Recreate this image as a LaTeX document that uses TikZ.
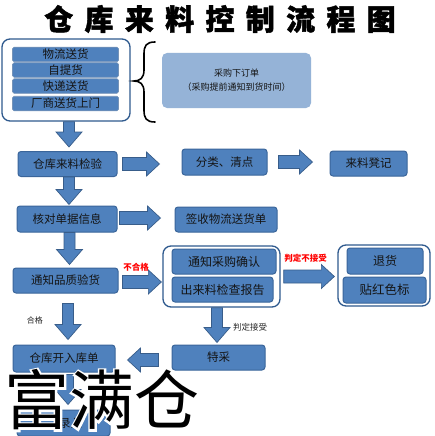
\documentclass[tikz,border=0pt]{standalone}
\usepackage{fontspec}
\setmainfont{Noto Sans CJK SC}
\newfontfamily\titlefont{Noto Sans CJK SC}[LetterSpace=39, BoldFeatures={FakeBold=1.5}]
\newfontfamily\wmfont{Noto Sans CJK SC}
\newfontfamily\wmhalo{Noto Sans CJK SC}[FakeBold=6]
\usetikzlibrary{calc}
\definecolor{boxfill}{HTML}{4F81BD}
\definecolor{boxline}{HTML}{3A659A}
\definecolor{arrfill}{HTML}{4F81BD}
\definecolor{arrline}{HTML}{385D8A}
\definecolor{lightfill}{HTML}{95B3D7}
\definecolor{boxtext}{HTML}{141414}
\definecolor{grpline}{HTML}{2F5A8E}
\tikzset{
  box/.style={draw=boxline, fill=boxfill, rounded corners=3pt, line width=1pt,
    text=boxtext, font=\fontsize{11.5}{13}\selectfont, inner sep=0pt},
  bar/.style={draw=boxline!70, fill=boxfill, rounded corners=1.5pt, line width=0.6pt,
    text=boxtext, font=\fontsize{11.5}{13}\selectfont, inner sep=0pt,
    minimum width=106pt, minimum height=14.5pt},
  grp/.style={draw=grpline, fill=white, rounded corners=8pt, line width=1.3pt},
  obox/.style={fill=lightfill, rounded corners=5pt, text=boxtext,
    font=\fontsize{9}{14}\selectfont, align=center, inner sep=0pt},
  barr/.style={fill=arrfill, draw=arrline, line width=0.7pt, line join=miter},
  redlbl/.style={text=red, font=\fontsize{8.5}{10}\selectfont\bfseries, inner sep=0pt},
  blklbl/.style={text=black!85, font=\fontsize{8.5}{10}\selectfont, inner sep=0pt},
}
% down arrow: from #1 (top centre) to tip y of #2
\newcommand\arrD[2]{\draw[barr] let \p1=(#1),\p2=(#2) in
  (\x1-5.5pt,\y1) -- (\x1+5.5pt,\y1) -- (\x1+5.5pt,\y2+15pt) -- (\x1+13pt,\y2+15pt)
  -- (\x1,\y2) -- (\x1-13pt,\y2+15pt) -- (\x1-5.5pt,\y2+15pt) -- cycle;}
% right arrow
\newcommand\arrR[2]{\draw[barr] let \p1=(#1),\p2=(#2) in
  (\x1,\y1+6.5pt) -- (\x2-13pt,\y1+6.5pt) -- (\x2-13pt,\y1+12pt) -- (\x2,\y1)
  -- (\x2-13pt,\y1-12pt) -- (\x2-13pt,\y1-6.5pt) -- (\x1,\y1-6.5pt) -- cycle;}
% left arrow
\newcommand\arrL[2]{\draw[barr] let \p1=(#1),\p2=(#2) in
  (\x1,\y1+6.5pt) -- (\x2+13pt,\y1+6.5pt) -- (\x2+13pt,\y1+12pt) -- (\x2,\y1)
  -- (\x2+13pt,\y1-12pt) -- (\x2+13pt,\y1-6.5pt) -- (\x1,\y1-6.5pt) -- cycle;}
\begin{document}
\begin{tikzpicture}[x=1pt,y=-1pt]
\useasboundingbox (0,0) rectangle (434,436);
\fill[white] (0,0) rectangle (434,436);

% title
\node[font=\titlefont\fontsize{29}{31}\selectfont\bfseries, inner sep=0pt] (title) at (220,19) {仓库来料控制流程图};

% source group
\node[grp, minimum width=128pt, minimum height=82pt] (src) at (66,80) {};
\node[bar] (b1) at (65.5,54.5) {物流送货};
\node[bar] (b2) at (65.5,70) {自提货};
\node[bar] (b3) at (65.5,86) {快递送货};
\node[bar] (b4) at (65.5,103.5) {厂商送货上门};

% brace
\draw[line width=1.6pt, line cap=round] (155,42) .. controls (146,42) and (144,46) .. (144,54)
  -- (144,70) .. controls (144,78) and (140,81) .. (134,81)
  .. controls (140,81) and (144,84) .. (144,92) -- (144,110)
  .. controls (144,118) and (146,122) .. (155,122);

\node[obox, minimum width=149pt, minimum height=55pt] (order) at (236.5,80.5)
  {采购下订单\\（采购提前通知到货时间）};

% row boxes
\node[box, minimum width=99pt, minimum height=25pt] (chk) at (67.5,164) {仓库来料检验};
\node[box, minimum width=85pt, minimum height=26pt] (sort) at (224.5,162) {分类、清点};
\node[box, minimum width=77pt, minimum height=25pt] (reg) at (368.5,163.5) {来料凳记};
\node[box, minimum width=100pt, minimum height=26pt] (ver) at (67,219) {核对单据信息};
\node[box, minimum width=102pt, minimum height=25pt] (sign) at (226,219.5) {签收物流送货单};
\node[box, minimum width=105pt, minimum height=25pt] (qc) at (65.5,280.5) {通知品质验货};

\node[grp, minimum width=117pt, minimum height=61pt] (grpA) at (221.5,276.5) {};
\node[box, minimum width=104pt, minimum height=25pt, font=\fontsize{12}{13}\selectfont] (notify) at (224,261.5) {通知采购确认};
\node[box, minimum width=101pt, minimum height=25pt, font=\fontsize{12}{13}\selectfont] (report) at (222.5,289.5) {出来料检查报告};

\node[grp, minimum width=92pt, minimum height=61pt] (grpB) at (384,275.5) {};
\node[box, minimum width=76pt, minimum height=26pt, font=\fontsize{12}{13}\selectfont] (ret) at (385,261) {退货};
\node[box, minimum width=83pt, minimum height=26pt, font=\fontsize{12.5}{13}\selectfont] (tag) at (384.5,290) {贴红色标};

\node[box, minimum width=102pt, minimum height=27pt] (store) at (64,358.5) {仓库开入库单};
\node[box, minimum width=93pt, minimum height=25pt] (special) at (218.5,357.5) {特采};
\node[box, minimum width=93pt, minimum height=26pt] (entry) at (63.5,423) {\hspace*{14pt}录入};

% labels
\node[redlbl] (l1) at (136,267) {不合格};
\node[redlbl] (l2) at (305.5,258) {判定不接受};
\node[blklbl, font=\fontsize{8}{10}\selectfont] (l3) at (35,320) {合格};
\node[blklbl] (l4) at (250,327) {判定接受};

% arrows
\arrD{[xshift=3pt]src.south}{[yshift=4pt]chk.north}
\arrR{[xshift=5pt]chk.east}{[xshift=-22pt]sort.west}
\arrR{[xshift=11pt]sort.east}{[xshift=-17pt]reg.west}
\arrD{[xshift=1.5pt]chk.south}{[yshift=1pt]ver.north}
\arrR{[xshift=2pt,yshift=1pt]ver.east}{[xshift=-14pt]sign.west}
\arrD{[xshift=2.5pt]ver.south}{[yshift=3pt]qc.north}
\arrR{[xshift=4pt,yshift=-1.5pt]qc.east}{[xshift=-1pt]grpA.west}
\arrR{[xshift=3pt]grpA.east}{[xshift=-3pt]grpB.west}
\arrD{[xshift=2.5pt,yshift=-10pt]qc.south}{[yshift=5pt]store.north}
\arrD{[xshift=-4.5pt]grpA.south}{[yshift=2pt]special.north}
\arrL{[xshift=-13pt,yshift=-2.5pt]special.west}{[xshift=12pt]store.east}
\arrD{[xshift=4pt,yshift=-2pt]store.south}{[yshift=5pt]entry.north}

% watermark with white halo
\node[text=white, font=\wmhalo\fontsize{65}{67}\selectfont, inner sep=0pt] (wmhalo) at (102,400) {富满仓};
\node[text=black, font=\wmfont\fontsize{65}{67}\selectfont, inner sep=0pt] (wm) at (102,400) {富满仓};
\end{tikzpicture}
\end{document}
